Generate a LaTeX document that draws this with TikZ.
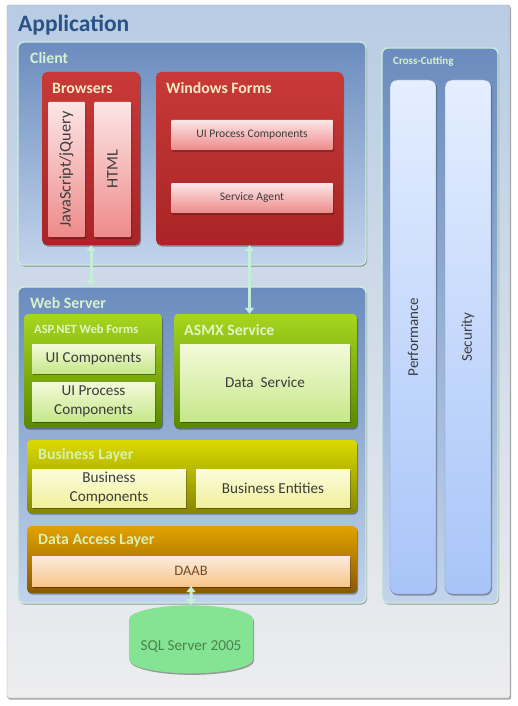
\documentclass[tikz,border=0pt]{standalone}
\usepackage{fontspec}
\setmainfont{Carlito}
\usetikzlibrary{shapes.geometric,shadows,arrows.meta}
\definecolor{appTop}{HTML}{B8CCE4}
\definecolor{appBot}{HTML}{EDEDEE}
\definecolor{appTitle}{HTML}{2A5286}
\definecolor{grpTop}{HTML}{6B8CBE}
\definecolor{grpBot}{HTML}{C2D4EC}
\definecolor{grpLine}{HTML}{CDEEDB}
\definecolor{grpText}{HTML}{D6F2CC}
\definecolor{redTop}{HTML}{C83A38}
\definecolor{redBot}{HTML}{A82426}
\definecolor{redText}{HTML}{F4EAC4}
\definecolor{pinkTop}{HTML}{FCE6E6}
\definecolor{pinkBot}{HTML}{EE8A8A}
\definecolor{grnTop}{HTML}{A6D61E}
\definecolor{grnBot}{HTML}{5A8800}
\definecolor{grnText}{HTML}{E2F4C4}
\definecolor{grnInTop}{HTML}{F4FADA}
\definecolor{grnInBot}{HTML}{C6E88A}
\definecolor{yelTop}{HTML}{DADA00}
\definecolor{yelBot}{HTML}{868600}
\definecolor{yelText}{HTML}{D8F0B4}
\definecolor{yelInTop}{HTML}{FCFCDC}
\definecolor{yelInBot}{HTML}{F0F09C}
\definecolor{orTop}{HTML}{E2A200}
\definecolor{orBot}{HTML}{8A5800}
\definecolor{orInTop}{HTML}{FCEBDD}
\definecolor{orInBot}{HTML}{F8C68A}
\definecolor{crTop}{HTML}{E4EEFF}
\definecolor{crBot}{HTML}{A8C4F8}
\definecolor{crLine}{HTML}{5A7CB0}
\definecolor{sqlFill}{HTML}{84E494}
\definecolor{arrCol}{HTML}{C4EED8}
\definecolor{txt}{HTML}{3C3C3C}
\newcommand\bx[7]{\node[#6,minimum width={#4-#2},minimum height={#5-#3}] (#1) at ({(#2+#4)/2},{(#3+#5)/2}) {#7};}
\begin{document}
\begin{tikzpicture}[x=1pt,y=-1pt,
  base/.style={inner sep=0pt,align=center,text=txt},
  shad/.style={drop shadow={shadow xshift=1pt,shadow yshift=-1.5pt,opacity=0.35,fill=black}},
  appbox/.style={base,rounded corners=2pt,draw=gray!70,top color=appTop,bottom color=appBot,shad},
  grp/.style={base,rounded corners=6pt,draw=grpLine,line width=1.3pt,top color=grpTop,bottom color=grpBot,shad},
  redbox/.style={base,rounded corners=5pt,top color=redTop,bottom color=redBot,shad},
  pinkbar/.style={base,rounded corners=1pt,top color=pinkTop,bottom color=pinkBot,shad,font=\fontsize{11.6}{13}\selectfont},
  grnbox/.style={base,rounded corners=4pt,top color=grnTop,bottom color=grnBot,shad},
  grnin/.style={base,top color=grnInTop,bottom color=grnInBot,shad,font=\fontsize{15.2}{18.5}\selectfont},
  yelbox/.style={base,rounded corners=4pt,top color=yelTop,bottom color=yelBot,shad},
  yelin/.style={base,top color=yelInTop,bottom color=yelInBot,shad,font=\fontsize{15.2}{18.5}\selectfont},
  orbox/.style={base,rounded corners=4pt,top color=orTop,bottom color=orBot,shad},
  orin/.style={base,top color=orInTop,bottom color=orInBot,shad,font=\fontsize{14.5}{16}\selectfont,text=brown!60!black},
  crbar/.style={base,rounded corners=7pt,draw=crLine!80,top color=crTop,bottom color=crBot,shad},
  ttl/.style={anchor=west,inner sep=0pt,font=\bfseries\fontsize{15.8}{18}\selectfont},
  rot/.style={rotate=90,text=txt,inner sep=0pt},
  conn/.style={draw=arrCol,line width=3pt,{Triangle[width=9pt,length=6pt]}-{Triangle[width=9pt,length=6pt]}}
]
\useasboundingbox (0,0) rectangle (517,706);
% Application
\bx{app}{7}{5}{510}{698}{appbox}{}
\node[ttl,text=appTitle,font=\bfseries\fontsize{23.5}{26}\selectfont] (appT) at (18,25) {Application};
% Client
\bx{client}{18}{42}{366}{265}{grp}{}
\node[ttl,text=grpText] (clientT) at (30,58) {Client};
\bx{browsers}{42}{72}{140}{245}{redbox}{}
\node[ttl,text=redText] (browsersT) at (52,88) {Browsers};
\bx{jq}{48}{102}{85}{237}{pinkbar}{}
\node[rot,font=\fontsize{16.2}{18}\selectfont] (jqT) at (jq.center) {JavaScript/jQuery};
\bx{html}{94}{102}{131}{237}{pinkbar}{}
\node[rot,font=\fontsize{16.2}{18}\selectfont] (htmlT) at (html.center) {HTML};
\bx{wf}{156}{72}{343}{245}{redbox}{}
\node[ttl,text=redText] (wfT) at (166,88) {Windows Forms};
\bx{uipc}{171}{120}{333}{150}{pinkbar}{UI Process Components}
\bx{sa}{171}{183}{333}{213}{pinkbar}{Service Agent}
% Web server
\bx{web}{18}{287}{366}{603}{grp}{}
\node[ttl,text=grpText] (webT) at (30,303) {Web Server};
\bx{asp}{24}{314}{162}{428}{grnbox}{}
\node[ttl,text=grnText,font=\bfseries\fontsize{12.5}{14}\selectfont] (aspT) at (34,329) {ASP.NET Web Forms};
\bx{uic}{32}{344}{155}{373}{grnin}{UI Components}
\bx{uipc2}{32}{382}{155}{421}{grnin}{UI Process\\Components}
\bx{asmx}{174}{314}{357}{428}{grnbox}{}
\node[ttl,text=grnText] (asmxT) at (184,330) {ASMX Service};
\bx{ds}{180}{344}{350}{421}{grnin}{Data\ \ Service}
\bx{bl}{27}{440}{357}{513}{yelbox}{}
\node[ttl,text=yelText] (blT) at (38,455) {Business Layer};
\bx{bc}{32}{469}{186}{507}{yelin}{Business\\Components}
\bx{be}{196}{469}{350}{507}{yelin}{Business Entities}
\bx{dal}{27}{526}{357}{593}{orbox}{}
\node[ttl,text=yelText] (dalT) at (38,541) {Data Access Layer};
\bx{daab}{32}{556}{350}{586}{orin}{DAAB}
% Cross-cutting
\bx{cross}{382}{48}{498}{603}{grp}{}
\node[ttl,text=grpText,font=\bfseries\fontsize{11}{13}\selectfont] (crossT) at (393,62) {Cross-Cutting};
\bx{perf}{390}{80}{436}{594}{crbar}{}
\node[rot,font=\fontsize{15}{17}\selectfont] (perfT) at (perf.center) {Performance};
\bx{sec}{445}{80}{491}{594}{crbar}{}
\node[rot,font=\fontsize{15}{17}\selectfont] (secT) at (sec.center) {Security};
% SQL
\node[cylinder,shape border rotate=90,aspect=0.28,fill=sqlFill,draw=none,minimum width=124pt,minimum height=68pt,inner sep=0pt,text=green!30!black!70,font=\fontsize{15.2}{17}\selectfont,shad] (sql) at (191,646.5) {SQL Server 2005};
% connectors
\draw[conn] (browsers.south) -- (browsers.south |- web.north);
\draw[conn] (wf.south) -- (wf.south |- asmx.north);
\draw[conn] (daab.south) -- (sql.north);
\end{tikzpicture}
\end{document}
